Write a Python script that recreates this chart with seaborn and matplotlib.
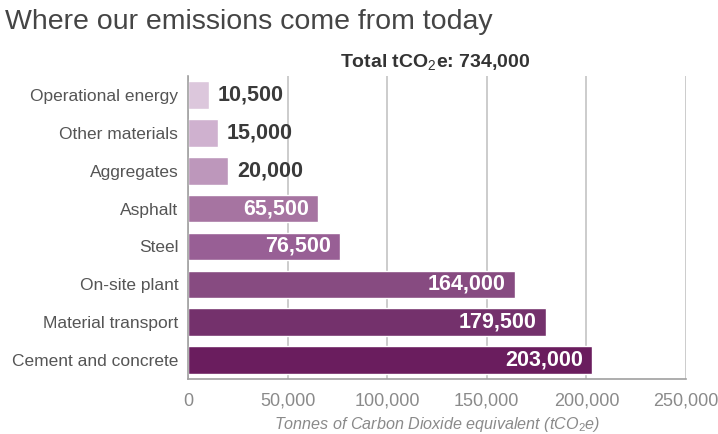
import matplotlib
matplotlib.use("Agg")
import matplotlib.pyplot as plt
import seaborn as sns
import pandas as pd
from matplotlib.ticker import FuncFormatter

categories = ["Operational energy", "Other materials", "Aggregates", "Asphalt",
              "Steel", "On-site plant", "Material transport", "Cement and concrete"]
values = [10500, 15000, 20000, 65500, 76500, 164000, 179500, 203000]
colors = ["#dcc7dc", "#cfb1cf", "#bd97bb", "#a674a1", "#985f95",
          "#874b81", "#74316c", "#6a1d5e"]
xticks = [0, 50000, 100000, 150000, 200000, 250000]
total_label = "734,000"

sns.set_theme(style="white")
plt.rcParams['font.family'] = ['Liberation Sans', 'DejaVu Sans']
plt.rcParams['mathtext.fontset'] = 'custom'
plt.rcParams['mathtext.rm'] = 'Liberation Sans'
plt.rcParams['mathtext.it'] = 'Liberation Sans:italic'
plt.rcParams['mathtext.bf'] = 'Liberation Sans:bold'

df = pd.DataFrame({"category": categories, "value": values})

fig = plt.figure(figsize=(7.18, 4.34), dpi=100)
ax = fig.add_axes([0.2618, 0.1267, 0.9554 - 0.2618, 0.698])

sns.barplot(data=df, y="category", x="value", hue="category", palette=colors,
            order=categories, legend=False, width=0.73, ax=ax, saturation=1)

ax.set_xlim(0, 250000)
ax.set_ylim(7.5, -0.5)
ax.set_xticks(xticks)
ax.xaxis.set_major_formatter(FuncFormatter(lambda v, p: f"{int(v):,}"))
ax.grid(axis="x", color="#c4c4c4", linewidth=1.2)
ax.set_axisbelow(True)
for s in ["top", "right"]:
    ax.spines[s].set_visible(False)
for s in ["left", "bottom"]:
    ax.spines[s].set_color("#a0a0a0")
    ax.spines[s].set_linewidth(1.2)
ax.tick_params(axis="x", colors="#8a8a8a", labelsize=13, length=4, width=1.2,
               direction="out", pad=6)
ax.tick_params(axis="x", color="#b0b0b0")
ax.tick_params(axis="y", labelsize=12.5, labelcolor="#555555", length=0, pad=7)
ax.set_ylabel("")
ax.set_xlabel("Tonnes of Carbon Dioxide equivalent (tCO$_2$e)", fontsize=11.6,
              color="#8a8a8a", style="italic", labelpad=4)

for i, v in enumerate(values):
    txt = f"{v:,}"
    if v < 30000:
        ax.text(v + 4500, i, txt, va="center", ha="left", fontsize=15.5,
                color="#3a3a3a", fontweight="bold")
    else:
        ax.text(v - 4500, i, txt, va="center", ha="right", fontsize=15.5,
                color="white", fontweight="bold")

fig.text(0.007, 0.95, "Where our emissions come from today", fontsize=20.5,
         color="#454545", ha="left", va="center")
fig.text(0.606, 0.858, "Total tCO$_2$e: " + total_label, fontsize=14,
         color="#333333", ha="center", va="center", fontweight="bold")

fig.savefig("out.png", dpi=100)
